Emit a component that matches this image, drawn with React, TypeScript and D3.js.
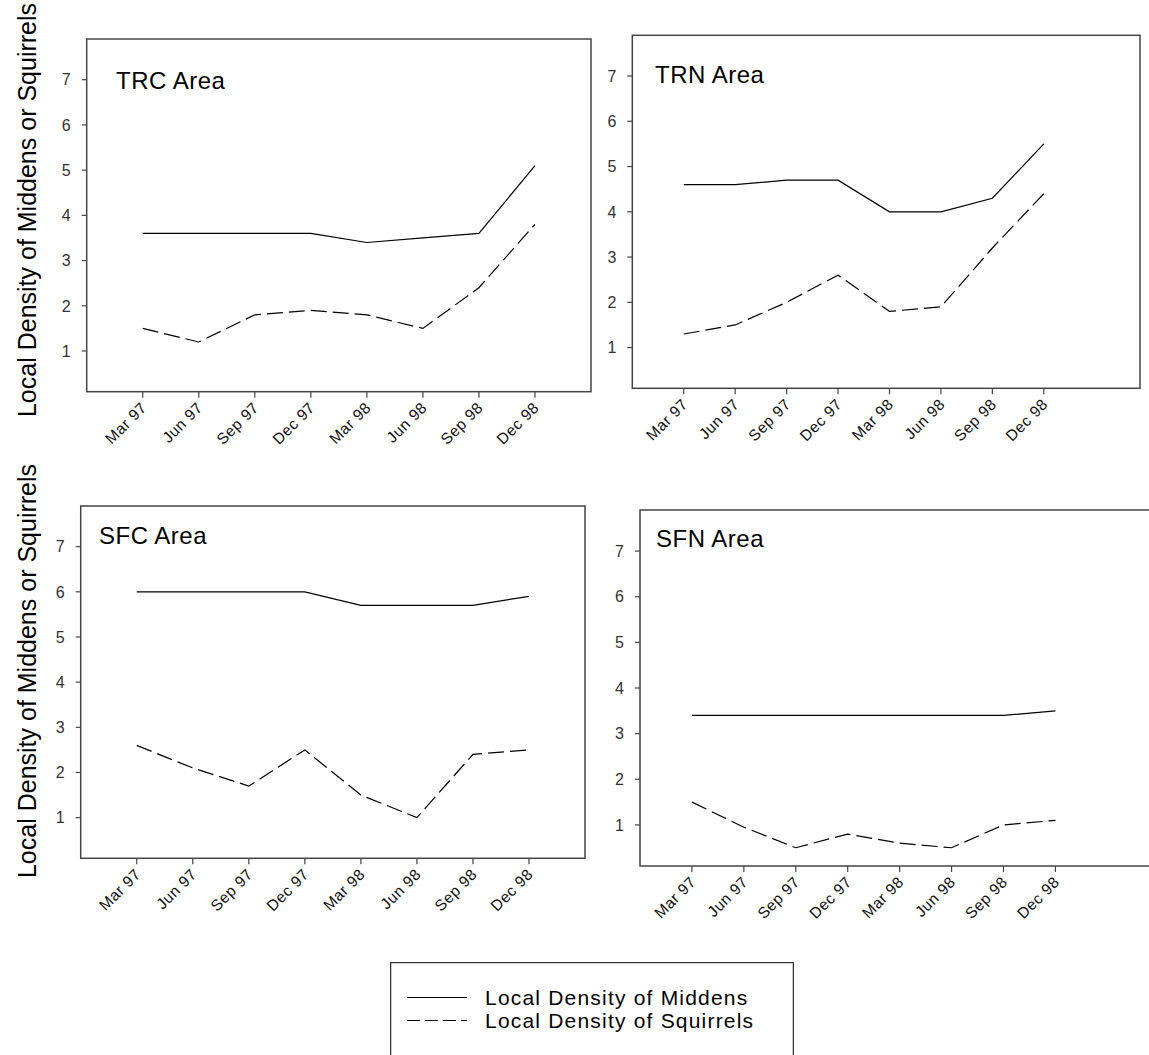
import React from 'react';
import * as d3 from 'd3';

// quarters sampled
const quarters = ['Mar 97', 'Jun 97', 'Sep 97', 'Dec 97', 'Mar 98', 'Jun 98', 'Sep 98', 'Dec 98'];
const yTicks = [1, 2, 3, 4, 5, 6, 7];

const trcMiddens = [3.6, 3.6, 3.6, 3.6, 3.4, 3.5, 3.6, 5.1];
const trcSquirrels = [1.5, 1.2, 1.8, 1.9, 1.8, 1.5, 2.4, 3.8];
const trnMiddens = [4.6, 4.6, 4.7, 4.7, 4.0, 4.0, 4.3, 5.5];
const trnSquirrels = [1.3, 1.5, 2.0, 2.6, 1.8, 1.9, 3.2, 4.4];
const sfcMiddens = [6.0, 6.0, 6.0, 6.0, 5.7, 5.7, 5.7, 5.9];
const sfcSquirrels = [2.6, 2.1, 1.7, 2.5, 1.5, 1.0, 2.4, 2.5];
const sfnMiddens = [3.4, 3.4, 3.4, 3.4, 3.4, 3.4, 3.4, 3.5];
const sfnSquirrels = [1.5, 0.95, 0.5, 0.8, 0.6, 0.5, 1.0, 1.1];

const areaNames = ['TRC Area', 'TRN Area', 'SFC Area', 'SFN Area'];
const legendLabels = ['Local Density of Middens', 'Local Density of Squirrels'];
const yTitle = 'Local Density of Middens or Squirrels';

const FONT = '"Liberation Sans", Arial, sans-serif';
const DASH = '16,6';

// frame boxes of the four panels
const panels = [
  { name: areaNames[0], middens: trcMiddens, squirrels: trcSquirrels, x0: 86.7, x1: 591, y0: 39, y1: 391.7, xMax: 8, titleX: 116, titleY: 89 },
  { name: areaNames[1], middens: trnMiddens, squirrels: trnSquirrels, x0: 632.3, x1: 1140, y0: 35.3, y1: 388.3, xMax: 8.87, titleX: 655, titleY: 83 },
  { name: areaNames[2], middens: sfcMiddens, squirrels: sfcSquirrels, x0: 80.7, x1: 585, y0: 506, y1: 858.3, xMax: 8, titleX: 99, titleY: 544 },
  { name: areaNames[3], middens: sfnMiddens, squirrels: sfnSquirrels, x0: 640, x1: 1152, y0: 510, y1: 866, xMax: 8.86, titleX: 656, titleY: 547 },
];

const Panel = ({ p }) => {
  const x = d3.scaleLinear().domain([-1, p.xMax]).range([p.x0, p.x1]);
  const y = d3.scaleLinear().domain([0.1, 7.9]).range([p.y1, p.y0]);
  const line = d3.line<number>()
    .x((_, i) => x(i))
    .y(d => y(d));

  return (
    <g>
      <rect x={p.x0} y={p.y0} width={p.x1 - p.x0} height={p.y1 - p.y0}
        fill="none" stroke="#444" strokeWidth={1.5} />
      {yTicks.map(t => (
        <g key={t}>
          <line x1={p.x0 - 5} x2={p.x0} y1={y(t)} y2={y(t)} stroke="#444" strokeWidth={1.2} />
          <text x={p.x0 - 16} y={y(t)} dy="0.36em" textAnchor="end"
            fontSize={16} fill="#333" fontFamily={FONT}>{t}</text>
        </g>
      ))}
      {quarters.map((q, i) => (
        <g key={q}>
          <line x1={x(i)} x2={x(i)} y1={p.y1} y2={p.y1 + 6} stroke="#444" strokeWidth={1.2} />
          <text transform={`translate(${x(i) + 5},${p.y1 + 17}) rotate(-45)`}
            textAnchor="end" fontSize={15.5} letterSpacing={0.5} fill="#111" fontFamily={FONT}>{q}</text>
        </g>
      ))}
      <path d={line(p.middens)} fill="none" stroke="#000" strokeWidth={1.2} />
      <path d={line(p.squirrels)} fill="none" stroke="#000" strokeWidth={1.2} strokeDasharray={DASH} />
      <text x={p.titleX} y={p.titleY} fontSize={24} letterSpacing={0.5} fontFamily={FONT} fill="#000">{p.name}</text>
    </g>
  );
};

const App = () => {
  return (
    <svg width={1149} height={1055} style={{ position: 'absolute', left: 0, top: 0, background: '#fff' }}>
      <rect width={1149} height={1055} fill="#fff" />
      {panels.map(p => <Panel key={p.name} p={p} />)}

      <text transform="translate(36,210) rotate(-90)" textAnchor="middle" fontSize={25} fontFamily={FONT} fill="#000">{yTitle}</text>
      <text transform="translate(36,671) rotate(-90)" textAnchor="middle" fontSize={25} fontFamily={FONT} fill="#000">{yTitle}</text>

      {/* legend */}
      <rect x={390.7} y={962.7} width={402.6} height={120} fill="none" stroke="#000" strokeWidth={1} />
      {legendLabels.map((l, i) => (
        <g key={l}>
          <line x1={407} x2={467} y1={997.5 + i * 23} y2={997.5 + i * 23} stroke="#000" strokeWidth={1.2}
            strokeDasharray={i === 1 ? '13,5' : undefined} />
          <text x={485} y={1004.5 + i * 23} fontSize={21} letterSpacing={1.2} fontFamily={FONT} fill="#000">{l}</text>
        </g>
      ))}
    </svg>
  );
};

export default App;
